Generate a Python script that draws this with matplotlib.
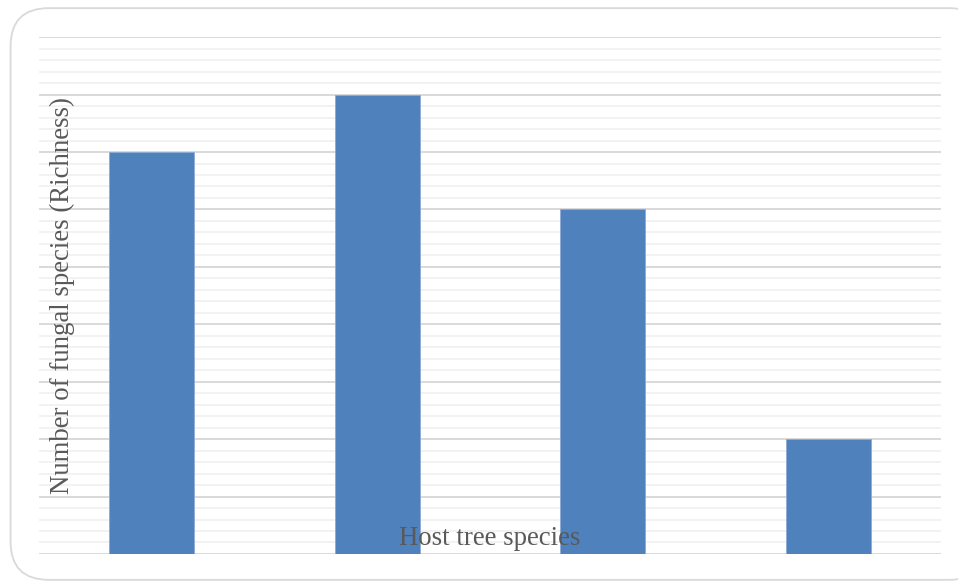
import matplotlib.pyplot as plt
from matplotlib.patches import FancyBboxPatch
from matplotlib.ticker import MultipleLocator

# Richness per host tree species
hosts = ['Host 1', 'Host 2', 'Host 3', 'Host 4']
richness = [7, 8, 6, 2]

fig = plt.figure(figsize=(9.58, 5.81), dpi=100)

# rounded frame around the chart
frame = FancyBboxPatch((0.011, 0.002), 1.02, 0.984, transform=fig.transFigure,
                       boxstyle='round,pad=0,rounding_size=0.04',
                       facecolor='white', edgecolor='#d9d9d9', linewidth=1.3,
                       mutation_aspect=958 / 581, zorder=-1)
fig.patches.append(frame)

ax = fig.add_axes([0.0407, 0.0465, 0.9415, 0.8895])
ax.set_facecolor('none')

x = range(len(hosts))
ax.bar(x, richness, width=0.377, color='#4f81bd', edgecolor='#8eaad6',
       linewidth=0.6, zorder=3)

ax.set_xlim(-0.5, len(hosts) - 0.5)
ax.set_ylim(0, 9)
ax.yaxis.set_major_locator(MultipleLocator(1))
ax.yaxis.set_minor_locator(MultipleLocator(0.2))
ax.grid(which='major', axis='y', color='#d9d9d9', linewidth=1.4, zorder=0)
ax.grid(which='minor', axis='y', color='#f2f2f2', linewidth=1.4, zorder=0)
ax.tick_params(which='both', left=False, bottom=False,
               labelleft=False, labelbottom=False)
for s in ax.spines.values():
    s.set_visible(False)

ax.text(0.026, 0.5, 'Number of fungal species (Richness)', transform=ax.transAxes,
        rotation=90, ha='center', va='center', fontsize=19.3,
        family='Liberation Serif', color='#595959', zorder=4)
ax.text(0.5, 0.03, 'Host tree species', transform=ax.transAxes,
        ha='center', va='center', fontsize=19.3,
        family='Liberation Serif', color='#595959', zorder=4)

fig.savefig('out.png', dpi=100)
